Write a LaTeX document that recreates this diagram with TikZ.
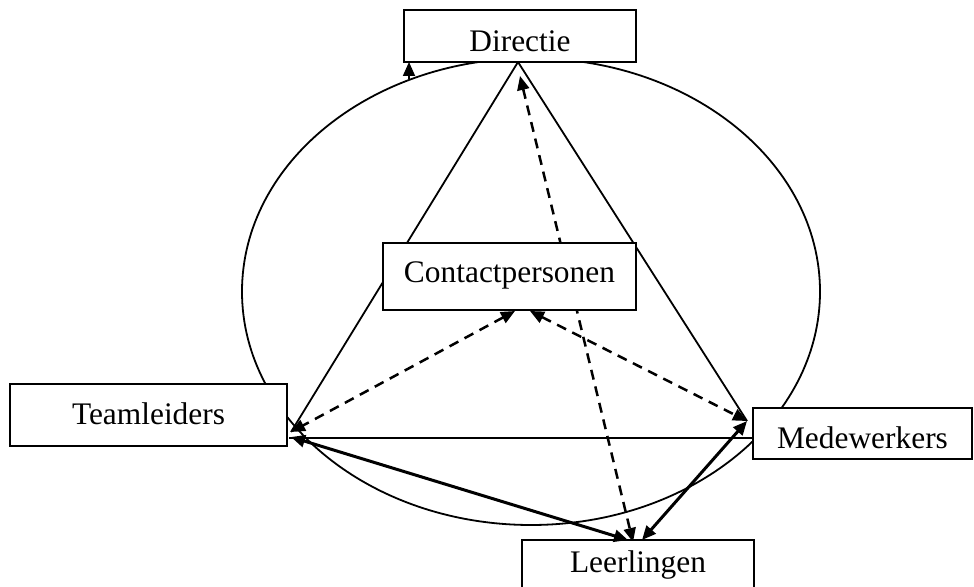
\documentclass[tikz,border=0pt]{standalone}
\usepackage{fontspec}
\setmainfont{Liberation Serif}
\usetikzlibrary{arrows.meta}
\begin{document}
\begin{tikzpicture}[x=0.5pt,y=-0.5pt,
  box/.style={draw,line width=1pt,fill=white,inner xsep=0pt,inner ysep=0pt,
    font=\fontsize{15.7}{18}\selectfont},
  thin/.style={line width=0.9pt},
  tip/.style={Triangle[length=7pt,width=6pt]},
  thickarr/.style={line width=1.5pt,{Triangle[length=7pt,width=6pt]}-{Triangle[length=7pt,width=6pt]}},
  dasharr/.style={line width=1.25pt,dash pattern=on 5pt off 3.5pt,{Triangle[length=7pt,width=6pt]}-{Triangle[length=7pt,width=6pt]}}
]
\useasboundingbox (0,0) rectangle (974,587);
% ellipse
\draw[thin] (531,291.6) ellipse [x radius=289, y radius=233.4];
% named coordinates
\coordinate (A) at (518,62);
\coordinate (tlA) at (291,432);
\coordinate (tlB) at (289,438);
\coordinate (tlC) at (291,437);
\coordinate (mwA) at (747,421);
\coordinate (mwB) at (753,438);
\coordinate (cpA) at (515,311);
\coordinate (cpB) at (530,311);
\coordinate (leA) at (628,540);
\coordinate (leB) at (633,542);
\coordinate (leC) at (642,540);
\coordinate (dirT) at (520,76);
\coordinate (elP) at (409,79);
\coordinate (elQ) at (409,62);
% solid triangle lines
\draw[thin] (A) -- (tlA);
\draw[thin] (A) -- (mwA);
\draw[thin] (tlB) -- (mwB);
% dashed arrows
\draw[dasharr] (cpA) -- (tlA);
\draw[dasharr] (cpB) -- (mwA);
\draw[dasharr] (dirT) -- (leB);
% boxes
\node[box,minimum width=116pt,text height=21pt,text depth=5pt] (Directie) at (520,36) {Directie};
\node[box,minimum width=126.5pt,text height=20pt,text depth=13.5pt] (Contact) at (509.5,276.5) {Contactpersonen};
\node[box,minimum width=138.5pt,text height=20pt,text depth=11pt] (Team) at (148.5,415) {Teamleiders};
\node[box,minimum width=109.5pt,text height=20pt,text depth=5.5pt] (Mede) at (862.5,433.5) {Medewerkers};
\node[box,minimum width=116pt,text height=16pt,text depth=14pt] (Leer) at (638,570) {Leerlingen};
% thick arrows
\draw[thickarr] (tlC) -- (leA);
\draw[thickarr] (mwA) -- (leC);
% small arrow on ellipse
\draw[thin,-{Triangle[length=7pt,width=6pt]}] (elP) -- (elQ);
\end{tikzpicture}
\end{document}
